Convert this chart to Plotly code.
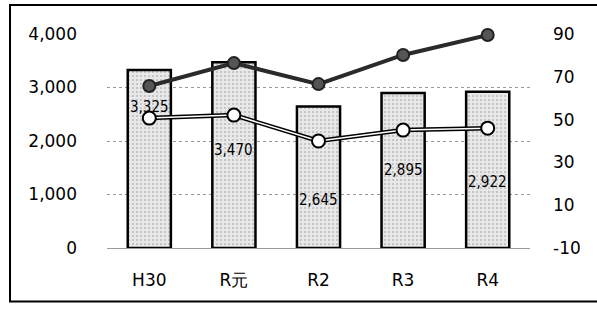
import plotly.graph_objects as go

categories = ["H30", "R元", "R2", "R3", "R4"]
bar_values = [3325, 3470, 2645, 2895, 2922]
dark_line = [65.7, 76.4, 66.6, 80.2, 89.5]
white_line = [50.7, 52.1, 40.0, 45.1, 46.0]
left_ticks = [0, 1000, 2000, 3000, 4000]
right_ticks = [-10, 10, 30, 50, 70, 90]

# label pixel offsets from bar tops (layout styling)
label_shift = [-37, -88, -94, -77, -90]

fig = go.Figure()
fig.add_trace(go.Bar(
    x=categories, y=bar_values, width=0.51,
    marker=dict(color="#d6d6d6", line=dict(color="black", width=2.5),
                pattern=dict(shape=".", fgcolor="#8a8a8a", bgcolor="#e8e8e8", size=4, solidity=0.2)),
    yaxis="y", hoverinfo="skip", showlegend=False,
))
fig.add_trace(go.Scatter(
    x=categories, y=dark_line, yaxis="y2", mode="lines+markers", cliponaxis=False,
    line=dict(color="#2a2a2a", width=4),
    marker=dict(size=12, color="#555555", line=dict(color="#222222", width=2)),
    showlegend=False,
))
fig.add_trace(go.Scatter(
    x=categories, y=white_line, yaxis="y2", mode="lines", cliponaxis=False,
    line=dict(color="black", width=4.5), showlegend=False,
))
fig.add_trace(go.Scatter(
    x=categories, y=white_line, yaxis="y2", mode="lines+markers", cliponaxis=False,
    line=dict(color="white", width=1.5),
    marker=dict(size=13, color="white", line=dict(color="black", width=2)),
    showlegend=False,
))

for c, v, s in zip(categories, bar_values, label_shift):
    fig.add_annotation(x=c, y=v, yref="y", text=f"{v:,}", showarrow=False,
                       yshift=s, font=dict(family="DejaVu Sans Condensed", size=15, color="black"))

fig.add_shape(type="rect", xref="paper", yref="paper", x0=-0.2293, x1=1.25, y0=-0.25, y1=1.1355,
              line=dict(color="black", width=2), layer="below")

fig.update_layout(
    width=597, height=311,
    margin=dict(l=107, r=67, t=34, b=63),
    plot_bgcolor="white", paper_bgcolor="white",
    font=dict(family="DejaVu Sans", size=17, color="black"),
    xaxis=dict(showgrid=False, ticks="", showline=False, tickfont=dict(size=17), ticklabelstandoff=20),
    yaxis=dict(range=[0, 4000], tickvals=left_ticks, tickformat=",", showgrid=True,
               gridcolor="#9a9a9a", griddash="dot", gridwidth=1, zeroline=True,
               zerolinecolor="#9a9a9a", zerolinewidth=1, ticklabelstandoff=29),
    yaxis2=dict(range=[-10, 90], tickvals=right_ticks, ticktext=[str(v) for v in right_ticks],
                overlaying="y", side="right", showgrid=False, zeroline=False, ticklabelstandoff=22),
)

fig.write_html("out.html", config={"displayModeBar": False},
               post_script="document.body.style.margin='0';document.body.style.overflow='hidden';")
